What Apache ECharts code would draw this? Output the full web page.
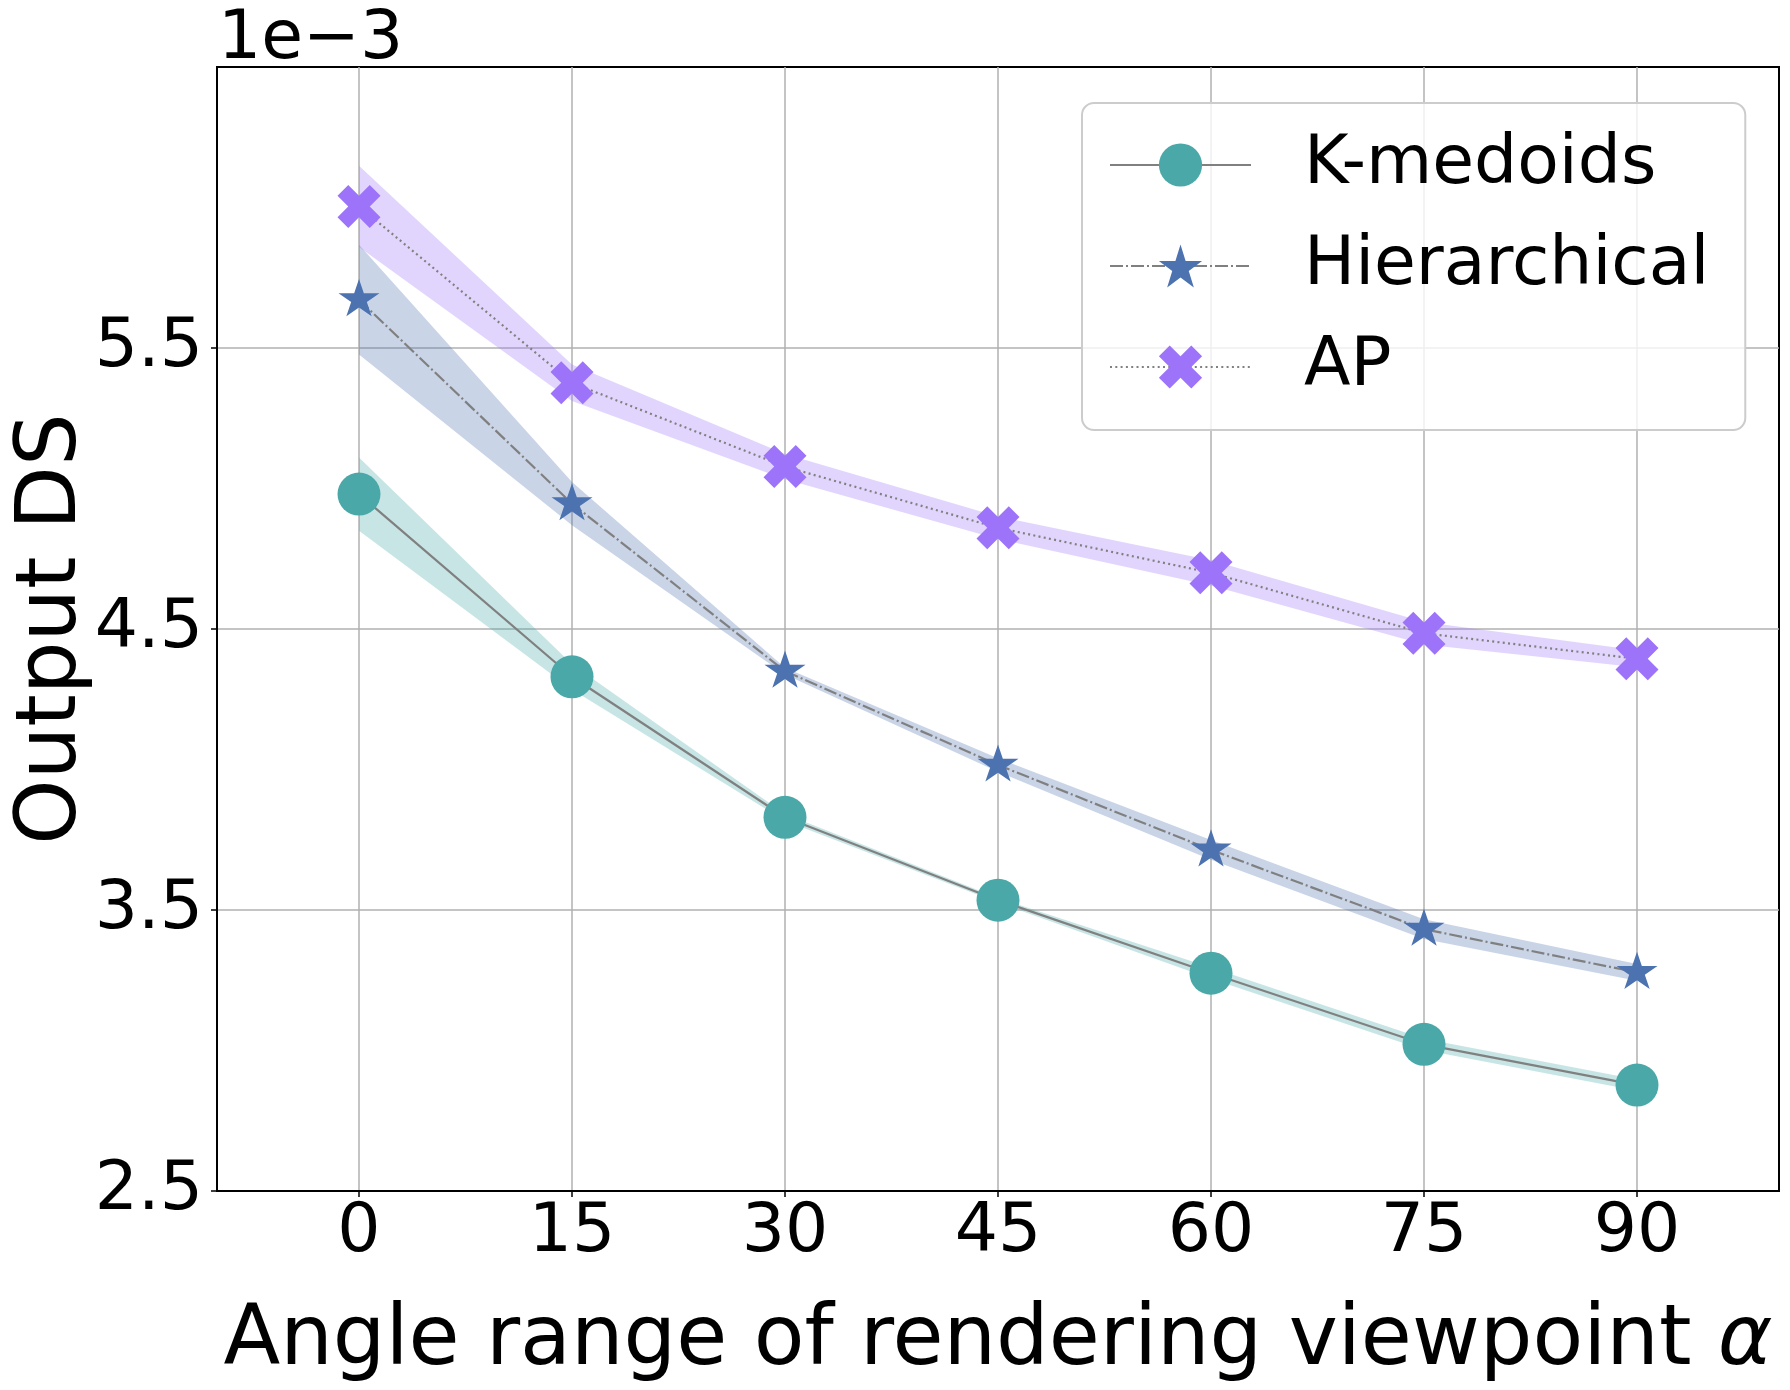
<!DOCTYPE html>
<html>
<head>
<meta charset="utf-8">
<script src="https://cdn.jsdelivr.net/npm/echarts@6/dist/echarts.min.js"></script>
<style>
  html, body { margin: 0; padding: 0; background: #fff; }
  #chart { width: 1790px; height: 1390px; }
</style>
</head>
<body>
<div id="chart"></div>
<script>
// values, y in units of 1e-3
const angles = [0, 15, 30, 45, 60, 75, 90];
const kMedoids = [4.98, 4.33, 3.83, 3.535, 3.275, 3.022, 2.877];
const hierarchical = [5.672, 4.946, 4.35, 4.016, 3.714, 3.432, 3.278];
const ap = [6.004, 5.376, 5.078, 4.86, 4.70, 4.485, 4.394];

// half width of the shaded bands
const kSpread = [0.13, 0.045, 0.012, 0.008, 0.02, 0.02, 0.02];
const hSpread = [0.195, 0.077, 0.012, 0.024, 0.035, 0.035, 0.03];
const apSpread = [0.145, 0.065, 0.045, 0.04, 0.045, 0.04, 0.03];

const yTicks = [2.5, 3.5, 4.5, 5.5];

const FONT = 'DejaVu Sans';
const STAR = 'path://M0,-100L22.45,-30.9L95.11,-30.9L36.33,11.8L58.78,80.9L0,38.2L-58.78,80.9L-36.33,11.8L-95.11,-30.9L-22.45,-30.9Z';
const XMARK = 'path://M50,-100L100,-50L50,0L100,50L50,100L0,50L-50,100L-100,50L-50,0L-100,-50L-50,-100L0,-50Z';

function pairs(ys) { return angles.map((a, i) => [a, ys[i]]); }

// shaded band: one polygon through the axis scale, drawn on the first item
function band(id, mean, spread, color) {
  let rows = angles.map((a, i) => [a, mean[i] - spread[i], mean[i] + spread[i]]);
  return {
    name: id + '-band', type: 'custom', data: rows, z: 1, silent: true,
    clip: true,
    renderItem: (params, api) => {
      if (params.dataIndex !== 0) return { type: 'group', children: [] };
      let upper = rows.map(r => api.coord([r[0], r[2]]));
      let lower = rows.map(r => api.coord([r[0], r[1]])).reverse();
      return {
        type: 'polygon',
        shape: { points: upper.concat(lower) },
        style: { fill: color, stroke: null }
      };
    }
  };
}

function main(name, ys, symbol, size, color, dash, offset) {
  return {
    name: name, type: 'line', data: pairs(ys), z: 5,
    symbol: symbol, symbolSize: size, symbolKeepAspect: true,
    symbolOffset: offset || [0, 0],
    itemStyle: { color: color, opacity: 1 },
    lineStyle: { color: '#808080', width: 2.2, type: dash, cap: 'butt' },
    emphasis: { disabled: true }
  };
}

let chart = echarts.init(document.getElementById('chart'));
chart.setOption({
  animation: false,
  backgroundColor: '#ffffff',
  title: {
    text: '1e\u22123', left: 218, top: 6, padding: 0,
    textStyle: { fontFamily: FONT, fontSize: 68, fontWeight: 'normal', color: '#000' }
  },
  grid: { left: 217, right: 11, top: 67, bottom: 199, show: true,
          outerBoundsMode: 'none', containLabel: false,
          borderColor: '#000', borderWidth: 2, backgroundColor: 'transparent' },
  legend: {
    data: ['K-medoids', 'Hierarchical', 'AP'],
    orient: 'vertical', left: 1082, top: 103,
    padding: [28, 36, 29, 27], itemGap: 33,
    itemWidth: 141, itemHeight: 54,
    backgroundColor: 'rgba(255,255,255,0.8)', borderColor: '#cccccc',
    borderWidth: 2, borderRadius: 12,
    textStyle: { fontFamily: FONT, fontSize: 68, color: '#000', lineHeight: 54,
                 padding: [0, 0, 0, 48] }
  },
  xAxis: {
    type: 'value', min: -10, max: 100,
    name: 'Angle range of rendering viewpoint {a|\u03b1}',
    nameLocation: 'middle', nameGap: 110,
    nameTextStyle: { fontFamily: FONT, fontSize: 83, color: '#000',
                     rich: { a: { fontFamily: FONT, fontSize: 83, fontStyle: 'italic', color: '#000' } } },
    axisLine: { onZero: false, lineStyle: { color: '#000', width: 2 } },
    axisTick: { customValues: angles, length: 6, lineStyle: { color: '#000', width: 1.5 } },
    axisLabel: { customValues: angles, margin: 8, fontFamily: FONT, fontSize: 68, color: '#000' },
    splitLine: { show: true, lineStyle: { color: '#b0b0b0', width: 1.5 } }
  },
  yAxis: {
    type: 'value', min: 2.5, max: 6.5,
    name: 'Output DS', nameLocation: 'middle', nameGap: 122,
    nameMoveOverlap: false,
    nameTextStyle: { fontFamily: FONT, fontSize: 83, color: '#000' },
    axisLine: { onZero: false, lineStyle: { color: '#000', width: 2 } },
    axisTick: { customValues: yTicks, length: 6, lineStyle: { color: '#000', width: 1.5 } },
    axisLabel: {
      customValues: yTicks, margin: 14, fontFamily: FONT, fontSize: 68, color: '#000',
      formatter: v => Number(v).toFixed(1)
    },
    splitLine: { show: true, lineStyle: { color: '#b0b0b0', width: 1.5 } }
  },
  series: [
    band('k', kMedoids, kSpread, 'rgba(74,168,168,0.3)'),
    band('h', hierarchical, hSpread, 'rgba(76,114,176,0.3)'),
    band('ap', ap, apSpread, 'rgba(157,115,250,0.3)'),
    main('K-medoids', kMedoids, 'circle', 43, '#4aa8a8', 'solid'),
    main('Hierarchical', hierarchical, STAR, [41, 39], '#4c72b0', [13, 3, 2, 3], [0, -2]),
    main('AP', ap, XMARK, 43, '#9d73fa', [2, 3.3])
  ]
});
</script>
</body>
</html>
